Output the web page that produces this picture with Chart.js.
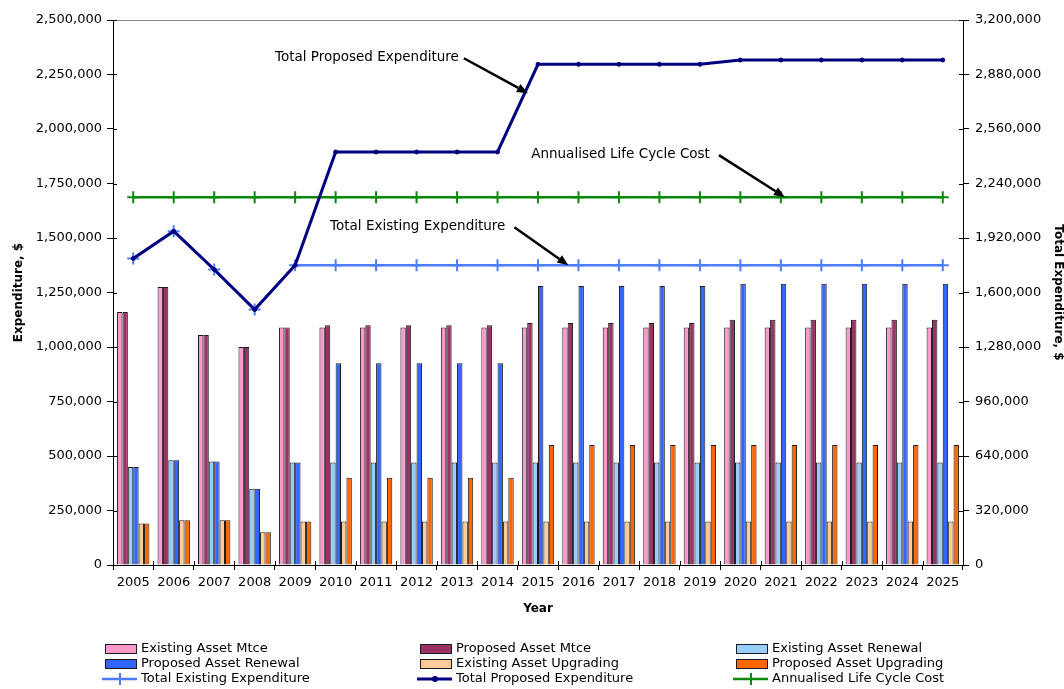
<!DOCTYPE html>
<html>
<head>
<meta charset="utf-8">
<script src="https://cdn.jsdelivr.net/npm/chart.js@4.4.1/dist/chart.umd.min.js"></script>
<style>
  body { margin: 0; background: #fff; }
  #wrap { width: 1064px; height: 689px; }
</style>
</head>
<body>
<div id="wrap"><canvas id="expChart" width="1064" height="689"></canvas></div>
<script>
const years = ['2005', '2006', '2007', '2008', '2009', '2010', '2011', '2012', '2013', '2014', '2015',
               '2016', '2017', '2018', '2019', '2020', '2021', '2022', '2023', '2024', '2025'];

// bars (left axis, $)
const existingMtce = [1160000, 1275000, 1055000, 1000000, 1090000, 1090000, 1090000, 1090000, 1090000, 1090000, 1090000,
                      1090000, 1090000, 1090000, 1090000, 1090000, 1090000, 1090000, 1090000, 1090000, 1090000];
const proposedMtce = [1160000, 1275000, 1055000, 1000000, 1090000, 1100000, 1100000, 1100000, 1100000, 1100000, 1110000,
                      1110000, 1110000, 1110000, 1110000, 1125000, 1125000, 1125000, 1125000, 1125000, 1125000];
const existingRenewal = [450000, 480000, 475000, 350000, 470000, 470000, 470000, 470000, 470000, 470000, 470000,
                         470000, 470000, 470000, 470000, 470000, 470000, 470000, 470000, 470000, 470000];
const proposedRenewal = [450000, 480000, 475000, 350000, 470000, 925000, 925000, 925000, 925000, 925000, 1280000,
                         1280000, 1280000, 1280000, 1280000, 1290000, 1290000, 1290000, 1290000, 1290000, 1290000];
const existingUpgrading = [190000, 205000, 205000, 150000, 200000, 200000, 200000, 200000, 200000, 200000, 200000,
                           200000, 200000, 200000, 200000, 200000, 200000, 200000, 200000, 200000, 200000];
const proposedUpgrading = [190000, 205000, 205000, 150000, 200000, 400000, 400000, 400000, 400000, 400000, 550000,
                           550000, 550000, 550000, 550000, 550000, 550000, 550000, 550000, 550000, 550000];

// lines (right axis, $)
const totalExisting = [1800000, 1960000, 1735000, 1500000, 1760000, 1760000, 1760000, 1760000, 1760000, 1760000, 1760000,
                       1760000, 1760000, 1760000, 1760000, 1760000, 1760000, 1760000, 1760000, 1760000, 1760000];
const totalProposed = [1800000, 1960000, 1735000, 1500000, 1760000, 2425000, 2425000, 2425000, 2425000, 2425000, 2940000,
                       2940000, 2940000, 2940000, 2940000, 2965000, 2965000, 2965000, 2965000, 2965000, 2965000];
const lifeCycleCost = [2160000, 2160000, 2160000, 2160000, 2160000, 2160000, 2160000, 2160000, 2160000, 2160000, 2160000,
                       2160000, 2160000, 2160000, 2160000, 2160000, 2160000, 2160000, 2160000, 2160000, 2160000];

const leftMax = 2500000, leftStep = 250000;
const rightMax = 3200000, rightStep = 320000;

// callouts: arrow tip near a series (category index, right-axis value)
const callouts = [
  { text: 'Total Proposed Expenditure', index: 9.75, value: 2770000, dx: -64, dy: -35, gap: 5 },
  { text: 'Annualised Life Cycle Cost', index: 16.1, value: 2160000, dx: -66, dy: -42, gap: 9 },
  { text: 'Total Existing Expenditure', index: 10.75, value: 1760000, dx: -54, dy: -38, gap: 9 }
];

const FONT = 'DejaVu Sans';
Chart.defaults.font.family = FONT;
Chart.defaults.color = '#000';

function bar(label, data, color) {
  return {
    type: 'bar', label: label, data: data, yAxisID: 'y', order: 5,
    backgroundColor: color, borderColor: '#1a1a1a', borderWidth: 1,
    categoryPercentage: 0.8, barPercentage: 1.0
  };
}

const datasets = [
  bar('Existing Asset Mtce', existingMtce, '#ff99cc'),
  bar('Proposed Asset Mtce', proposedMtce, '#993366'),
  bar('Existing Asset Renewal', existingRenewal, '#99ccff'),
  bar('Proposed Asset Renewal', proposedRenewal, '#3366ff'),
  bar('Existing Asset Upgrading', existingUpgrading, '#ffcc99'),
  bar('Proposed Asset Upgrading', proposedUpgrading, '#ff6600'),
  {
    type: 'line', label: 'Total Existing Expenditure', data: totalExisting, yAxisID: 'y1', order: 2,
    borderColor: '#4d7dff', backgroundColor: '#4d7dff', borderWidth: 2.5,
    pointStyle: 'cross', pointRadius: 6, pointBorderWidth: 2, pointBorderColor: '#4d7dff', tension: 0
  },
  {
    type: 'line', label: 'Total Proposed Expenditure', data: totalProposed, yAxisID: 'y1', order: 1,
    borderColor: '#000080', backgroundColor: '#000080', borderWidth: 3,
    pointStyle: 'circle', pointRadius: 2, pointBorderWidth: 1, pointBorderColor: '#000080', tension: 0
  },
  {
    type: 'line', label: 'Annualised Life Cycle Cost', data: lifeCycleCost, yAxisID: 'y1', order: 3,
    borderColor: '#0a8a0a', backgroundColor: '#0a8a0a', borderWidth: 2.5,
    pointStyle: 'cross', pointRadius: 6, pointBorderWidth: 2, pointBorderColor: '#0a8a0a', tension: 0
  }
];

// tick marks that cross into the plot area + grey top border
const axisExtras = {
  id: 'axisExtras',
  beforeDatasetsDraw(chart) {
    const { ctx, chartArea: a, scales } = chart;
    ctx.save();
    ctx.strokeStyle = '#888';
    ctx.lineWidth = 1;
    ctx.beginPath();
    ctx.moveTo(a.left, a.top + 0.5);
    ctx.lineTo(a.right, a.top + 0.5);
    ctx.stroke();

    ctx.strokeStyle = '#000';
    ctx.beginPath();
    scales.y.ticks.forEach((t, i) => {
      const y = Math.round(scales.y.getPixelForTick(i)) + 0.5;
      ctx.moveTo(a.left, y); ctx.lineTo(a.left + 4, y);
    });
    scales.y1.ticks.forEach((t, i) => {
      const y = Math.round(scales.y1.getPixelForTick(i)) + 0.5;
      ctx.moveTo(a.right - 4, y); ctx.lineTo(a.right, y);
    });
    const n = years.length;
    for (let i = 0; i <= n; i++) {
      const x = Math.round(a.left + (a.right - a.left) * i / n) + 0.5;
      ctx.moveTo(x, a.bottom - 4); ctx.lineTo(x, a.bottom);
    }
    ctx.stroke();
    ctx.restore();
  }
};

// text + arrow callouts
const arrowNotes = {
  id: 'arrowNotes',
  afterDatasetsDraw(chart) {
    const { ctx, scales } = chart;
    ctx.save();
    callouts.forEach(c => {
      const tx = scales.x.getPixelForValue(c.index);
      const ty = scales.y1.getPixelForValue(c.value);
      const sx = tx + c.dx, sy = ty + c.dy;
      const ang = Math.atan2(ty - sy, tx - sx);
      const headLen = 11, headW = 4.5;
      const bx = tx - headLen * Math.cos(ang), by = ty - headLen * Math.sin(ang);

      ctx.strokeStyle = '#000';
      ctx.lineWidth = 2.5;
      ctx.beginPath();
      ctx.moveTo(sx, sy);
      ctx.lineTo(bx, by);
      ctx.stroke();

      ctx.fillStyle = '#000';
      ctx.beginPath();
      ctx.moveTo(tx, ty);
      ctx.lineTo(bx + headW * Math.sin(ang), by - headW * Math.cos(ang));
      ctx.lineTo(bx - headW * Math.sin(ang), by + headW * Math.cos(ang));
      ctx.closePath();
      ctx.fill();

      ctx.font = '13.5px "' + FONT + '"';
      ctx.textAlign = 'right';
      ctx.textBaseline = 'middle';
      ctx.fillText(c.text, sx - c.gap, sy - 1);
    });
    ctx.restore();
  }
};

// three-column legend under the axis
const gridLegend = {
  id: 'gridLegend',
  afterDraw(chart) {
    const { ctx } = chart;
    const colX = [105, 420, 736];
    const rowY = [649, 664, 679];
    ctx.save();
    ctx.font = '13px "' + FONT + '"';
    ctx.textBaseline = 'middle';
    ctx.textAlign = 'left';
    chart.data.datasets.forEach((ds, i) => {
      const x = colX[i % 3], y = rowY[Math.floor(i / 3)];
      if (ds.type === 'bar') {
        ctx.fillStyle = ds.backgroundColor;
        ctx.fillRect(x, y - 5, 32, 10);
        ctx.strokeStyle = '#1a1a1a';
        ctx.lineWidth = 1;
        ctx.strokeRect(x + 0.5, y - 4.5, 31, 9);
      } else {
        ctx.strokeStyle = ds.borderColor;
        ctx.lineWidth = ds.borderWidth;
        ctx.beginPath();
        ctx.moveTo(x - 3, y); ctx.lineTo(x + 32, y);
        ctx.stroke();
        if (ds.pointStyle === 'cross') {
          ctx.lineWidth = 2;
          ctx.beginPath();
          ctx.moveTo(x + 15, y - 6); ctx.lineTo(x + 15, y + 6);
          ctx.stroke();
        } else {
          ctx.fillStyle = ds.borderColor;
          ctx.beginPath();
          ctx.arc(x + 15, y, 3, 0, Math.PI * 2);
          ctx.fill();
        }
      }
      ctx.fillStyle = '#000';
      ctx.fillText(ds.label, x + 36, y);
    });
    ctx.restore();
  }
};

const fmt = v => Number(v).toLocaleString('en-US');

new Chart(document.getElementById('expChart'), {
  data: { labels: years, datasets: datasets },
  options: {
    responsive: false,
    animation: false,
    layout: { padding: { top: 20, bottom: 64, left: 0, right: 0 } },
    plugins: { legend: { display: false }, tooltip: { enabled: false } },
    scales: {
      x: {
        offset: true,
        grid: { drawOnChartArea: false, offset: true, tickLength: 5, color: '#000' },
        border: { color: '#000' },
        ticks: { font: { size: 13 }, color: '#000', maxRotation: 0, autoSkip: false, padding: 5 },
        title: { display: true, text: 'Year', font: { size: 12, weight: 'bold', lineHeight: 1 }, padding: { top: 0, bottom: 10 } },
        afterFit: s => { s.height = 60; }
      },
      y: {
        position: 'left', min: 0, max: leftMax,
        grid: { drawOnChartArea: false, tickLength: 6, color: '#000' },
        border: { color: '#000' },
        ticks: { stepSize: leftStep, font: { size: 13 }, color: '#000', padding: 5, callback: fmt },
        title: { display: true, text: 'Expenditure, $', font: { size: 12, weight: 'bold', lineHeight: 1 }, padding: { top: 13, bottom: 0 } },
        afterFit: s => { s.width = 113; }
      },
      y1: {
        position: 'right', min: 0, max: rightMax,
        grid: { drawOnChartArea: false, tickLength: 6, color: '#000' },
        border: { color: '#000' },
        ticks: { stepSize: rightStep, font: { size: 13 }, color: '#000', padding: 6, callback: fmt },
        title: { display: true, text: 'Total Expenditure, $', font: { size: 12, weight: 'bold', lineHeight: 1 }, padding: { top: 0, bottom: 0 } },
        afterFit: s => { s.width = 101; }
      }
    }
  },
  plugins: [axisExtras, arrowNotes, gridLegend]
});
</script>
</body>
</html>
